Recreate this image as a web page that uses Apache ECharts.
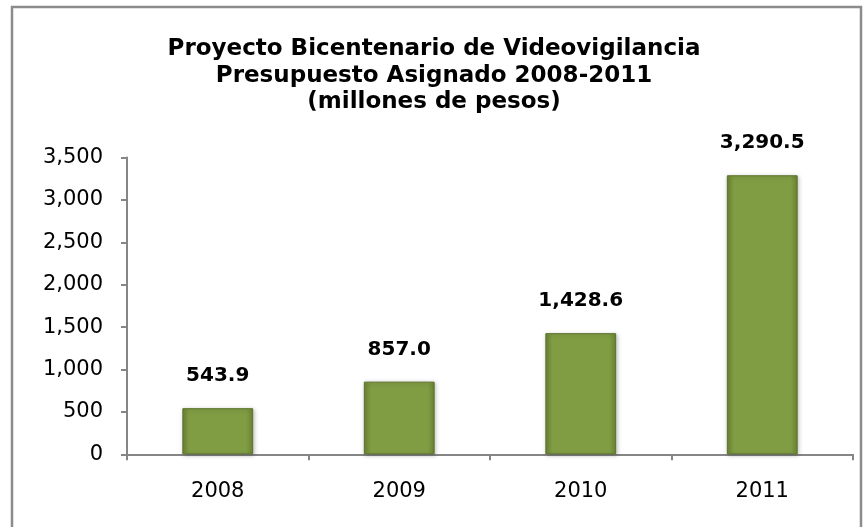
<!DOCTYPE html>
<html>
<head>
<meta charset="utf-8">
<script src="https://cdn.jsdelivr.net/npm/echarts@6/dist/echarts.min.js"></script>
<style>
  html, body { margin: 0; padding: 0; background: #fff; }
  #chart { width: 868px; height: 527px; }
</style>
</head>
<body>
<div id="chart"></div>
<script>
// Datos del gráfico
var anios = ['2008', '2009', '2010', '2011'];
var presupuesto = [543.9, 857.0, 1428.6, 3290.5];
var titulo = 'Proyecto Bicentenario de Videovigilancia\nPresupuesto Asignado 2008-2011\n(millones de pesos)';

var myChart = echarts.init(document.getElementById('chart'));

// formato con comas de miles
var fmt = function (v, dec) {
    return Number(v).toLocaleString('en-US', { minimumFractionDigits: dec, maximumFractionDigits: dec });
};

var option = {
    backgroundColor: '#ffffff',
    textStyle: { fontFamily: 'DejaVu Sans' },
    title: {
        text: titulo,
        left: 'center',
        top: 31,
        textStyle: {
            fontFamily: 'DejaVu Sans',
            fontWeight: 'bold',
            fontSize: 23,
            lineHeight: 26.5,
            color: '#000'
        }
    },
    graphic: [{
        type: 'rect',
        shape: { x: 12, y: 7, width: 849, height: 540 },
        style: { fill: null, stroke: '#8c8c8c', lineWidth: 2.5 },
        silent: true
    }],
    grid: { left: 127, right: 15, top: 157.5, bottom: 72.7 },
    xAxis: {
        type: 'category',
        data: anios,
        axisLine: { lineStyle: { color: '#868686', width: 2 } },
        axisTick: { show: true, alignWithLabel: false, length: 6, lineStyle: { color: '#868686', width: 2 } },
        axisLabel: { fontSize: 21, color: '#000', margin: 27, fontFamily: 'DejaVu Sans' }
    },
    yAxis: {
        type: 'value',
        min: 0,
        max: 3500,
        interval: 500,
        splitLine: { show: false },
        axisLine: { show: true, lineStyle: { color: '#868686', width: 2 } },
        axisTick: { show: true, length: 6, lineStyle: { color: '#868686', width: 2 } },
        axisLabel: {
            fontSize: 21, color: '#000', margin: 24, fontFamily: 'DejaVu Sans',
            formatter: function (v) { return fmt(v, 0); }
        }
    },
    series: [{
        name: 'Presupuesto',
        type: 'bar',
        data: presupuesto,
        barWidth: '39%',
        itemStyle: {
            color: new echarts.graphic.LinearGradient(0, 0, 1, 0, [
                { offset: 0, color: '#6b8535' },
                { offset: 0.1, color: '#809d44' },
                { offset: 0.9, color: '#809d44' },
                { offset: 1, color: '#6b8535' }
            ]),
            borderColor: '#5b7229',
            borderWidth: 1,
            shadowColor: 'rgba(0,0,0,0.25)',
            shadowBlur: 4,
            shadowOffsetX: 1,
            shadowOffsetY: 1
        },
        label: {
            show: true,
            position: 'top',
            distance: 22,
            fontFamily: 'DejaVu Sans',
            fontWeight: 'bold',
            fontSize: 20,
            color: '#000',
            formatter: function (p) { return fmt(p.value, 1); }
        }
    }]
};

myChart.setOption(option);
</script>
</body>
</html>
